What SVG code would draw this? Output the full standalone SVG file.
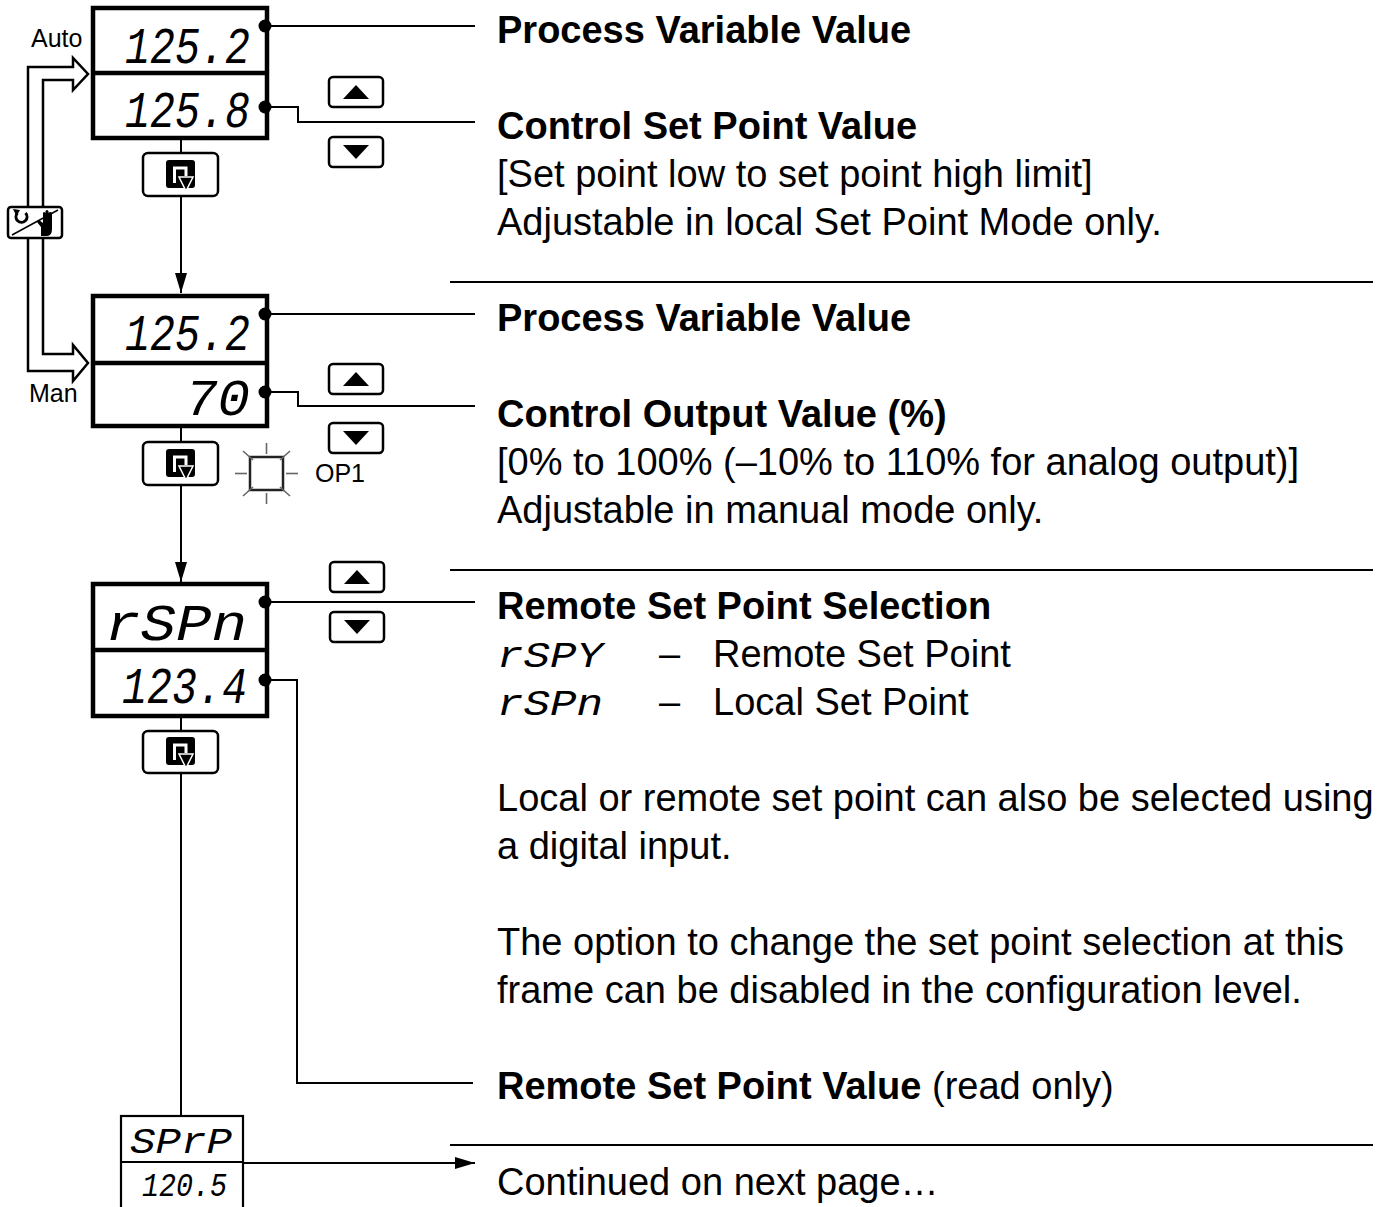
<svg xmlns="http://www.w3.org/2000/svg" width="1386" height="1207" viewBox="0 0 1386 1207">
<style>
.disp{fill:#fff;stroke:#000;stroke-width:4.5}
.thin{fill:#fff;stroke:#000;stroke-width:2.2}
.btn{fill:#fff;stroke:#000;stroke-width:2.5}
.ln{fill:none;stroke:#000;stroke-width:2}
.hol{fill:none;stroke:#000;stroke-width:2.5;stroke-linejoin:miter}
.t{font-family:"Liberation Sans",Arial,sans-serif;font-size:38px;fill:#000}
.b{font-weight:bold}
.sm{font-family:"Liberation Sans",Arial,sans-serif;font-size:25px;fill:#000}
.seg{font-family:"Liberation Mono","DejaVu Sans Mono",monospace;font-style:italic;fill:#000}
.ray{stroke:#666;stroke-width:1.6}
</style>
<defs>
<g id="enter">
<rect x="0" y="0" width="29" height="28" rx="3" fill="#000"/>
<path d="M8.5,23 V8 H20 V16" fill="none" stroke="#fff" stroke-width="3"/>
<polygon points="13,17 27,17 20,31" fill="#000" stroke="#fff" stroke-width="1.5"/>
</g>
<g id="up">
<rect x="0" y="0" width="54" height="30" rx="4" class="btn"/>
<polygon points="14,22 40,22 27,8" fill="#000"/>
</g>
<g id="down">
<rect x="0" y="0" width="54" height="30" rx="4" class="btn"/>
<polygon points="14,8 40,8 27,22" fill="#000"/>
</g>
<marker id="ah" viewBox="0 0 20 12" refX="20" refY="6" markerWidth="20" markerHeight="12" markerUnits="userSpaceOnUse" orient="auto">
<path d="M0,0 L20,6 L0,12 Z" fill="#000"/>
</marker>
</defs>

<g id="connectors">
<line class="ln" x1="181" y1="138" x2="181" y2="153"/>
<line class="ln" x1="181" y1="196" x2="181" y2="293" marker-end="url(#ah)"/>
<line class="ln" x1="181" y1="426" x2="181" y2="442"/>
<line class="ln" x1="181" y1="485" x2="181" y2="582" marker-end="url(#ah)"/>
<line class="ln" x1="181" y1="716" x2="181" y2="731"/>
<line class="ln" x1="181" y1="773" x2="181" y2="1116"/>
<line class="ln" x1="243" y1="1163" x2="475" y2="1163" marker-end="url(#ah)"/>
<path class="ln" d="M265,26 H475"/>
<path class="ln" d="M265,107 H298 V122 H475"/>
<path class="ln" d="M265,314 H475"/>
<path class="ln" d="M265,392 H298 V406 H475"/>
<path class="ln" d="M265,602 H475"/>
<path class="ln" d="M265,680 H297 V1083 H473"/>
<path class="hol" d="M28,207 V67 H73 V58 L88,74 L73,90 V80 H43 V207"/>
<path class="hol" d="M43,238 V354 H73 V345 L88,363 L73,381 V371 H28 V238"/>
</g>

<g id="separators">
<line class="ln" x1="450" y1="282" x2="1373" y2="282"/>
<line class="ln" x1="450" y1="570" x2="1373" y2="570"/>
<line class="ln" x1="450" y1="1145" x2="1373" y2="1145"/>
</g>

<g id="display1">
<rect class="disp" x="93" y="8" width="174" height="130"/>
<line stroke="#000" stroke-width="4.5" x1="93" y1="73" x2="267" y2="73"/>
<text class="seg" x="125" y="63" font-size="52" textLength="125" lengthAdjust="spacingAndGlyphs">125.2</text>
<text class="seg" x="125" y="127" font-size="52" textLength="125" lengthAdjust="spacingAndGlyphs">125.8</text>
<circle cx="265" cy="26" r="6.5"/>
<circle cx="265" cy="107" r="6.5"/>
</g>
<g id="enter1">
<rect class="btn" x="143" y="153" width="75" height="43" rx="5"/>
<use href="#enter" x="166" y="160"/>
</g>
<g id="updown1">
<use href="#up" x="329" y="77"/>
<use href="#down" x="329" y="137"/>
</g>

<g id="modeswitch">
<text class="sm" x="31" y="47">Auto</text>
<text class="sm" x="29" y="402">Man</text>
<rect class="btn" x="8" y="207" width="54" height="31" rx="3"/>
<line stroke="#000" stroke-width="1.5" x1="12" y1="235" x2="58" y2="210"/>
<path d="M17.5,213 A5.5,5.5 0 1 0 25.5,213" fill="none" stroke="#000" stroke-width="3"/>
<polygon points="13,209 20,210 16.5,216" fill="#000"/>
<path d="M41,236 V227 L37,222 L39,220 L43,223 V213 Q44,211 45.5,213 V220 V211 Q47,209 48.5,211 V220 V213 Q50,211 52,213 V229 Q52,236 47,236 Z" fill="#000"/>
</g>

<g id="display2">
<rect class="disp" x="93" y="296" width="174" height="130"/>
<line stroke="#000" stroke-width="4.5" x1="93" y1="363" x2="267" y2="363"/>
<text class="seg" x="125" y="350" font-size="52" textLength="125" lengthAdjust="spacingAndGlyphs">125.2</text>
<text class="seg" x="185" y="415" font-size="52" textLength="65" lengthAdjust="spacingAndGlyphs">70</text>
<circle cx="265" cy="314" r="6.5"/>
<circle cx="265" cy="392" r="6.5"/>
</g>
<g id="enter2">
<rect class="btn" x="143" y="442" width="75" height="43" rx="5"/>
<use href="#enter" x="166" y="449"/>
</g>
<g id="updown2">
<use href="#up" x="329" y="364"/>
<use href="#down" x="329" y="423"/>
</g>
<g id="op1">
<rect x="250" y="457" width="33" height="33" fill="#fff" stroke="#222" stroke-width="2.5"/>
<line class="ray" x1="266.5" y1="443" x2="266.5" y2="454"/>
<line class="ray" x1="266.5" y1="493" x2="266.5" y2="504"/>
<line class="ray" x1="235" y1="473.5" x2="247" y2="473.5"/>
<line class="ray" x1="286" y1="473.5" x2="298" y2="473.5"/>
<line class="ray" x1="243" y1="451" x2="253" y2="460"/>
<line class="ray" x1="290" y1="451" x2="280" y2="460"/>
<line class="ray" x1="243" y1="496" x2="253" y2="487"/>
<line class="ray" x1="290" y1="496" x2="280" y2="487"/>
<text class="sm" x="315" y="482">OP1</text>
</g>

<g id="display3">
<rect class="disp" x="93" y="584" width="174" height="132"/>
<line stroke="#000" stroke-width="4.5" x1="93" y1="650" x2="267" y2="650"/>
<text class="seg" x="105" y="640" font-size="52" textLength="142" lengthAdjust="spacingAndGlyphs">rSPn</text>
<text class="seg" x="122" y="703" font-size="52" textLength="125" lengthAdjust="spacingAndGlyphs">123.4</text>
<circle cx="265" cy="602" r="6.5"/>
<circle cx="265" cy="680" r="6.5"/>
</g>
<g id="enter3">
<rect class="btn" x="143" y="731" width="75" height="42" rx="5"/>
<use href="#enter" x="166" y="737"/>
</g>
<g id="updown3">
<use href="#up" x="330" y="562"/>
<use href="#down" x="330" y="612"/>
</g>

<g id="display4">
<rect class="thin" x="121" y="1116" width="122" height="100"/>
<line stroke="#000" stroke-width="2.2" x1="121" y1="1162" x2="243" y2="1162"/>
<text class="seg" x="130" y="1153" font-size="36" textLength="102" lengthAdjust="spacingAndGlyphs">SPrP</text>
<text class="seg" x="142" y="1196" font-size="33" textLength="85" lengthAdjust="spacingAndGlyphs">120.5</text>
</g>

<g id="texts">
<text class="t b" x="497" y="43">Process Variable Value</text>
<text class="t b" x="497" y="139">Control Set Point Value</text>
<text class="t" x="497" y="187">[Set point low to set point high limit]</text>
<text class="t" x="497" y="235">Adjustable in local Set Point Mode only.</text>
<text class="t b" x="497" y="331">Process Variable Value</text>
<text class="t b" x="497" y="427">Control Output Value (%)</text>
<text class="t" x="497" y="475">[0% to 100% (–10% to 110% for analog output)]</text>
<text class="t" x="497" y="523">Adjustable in manual mode only.</text>
<text class="t b" x="497" y="619">Remote Set Point Selection</text>
<text class="seg" x="497" y="667" font-size="36" textLength="106" lengthAdjust="spacingAndGlyphs">rSPY</text>
<text class="t" x="659" y="667">–</text>
<text class="t" x="713" y="667">Remote Set Point</text>
<text class="seg" x="497" y="715" font-size="36" textLength="106" lengthAdjust="spacingAndGlyphs">rSPn</text>
<text class="t" x="659" y="715">–</text>
<text class="t" x="713" y="715">Local Set Point</text>
<text class="t" x="497" y="811">Local or remote set point can also be selected using</text>
<text class="t" x="497" y="859">a digital input.</text>
<text class="t" x="497" y="955">The option to change the set point selection at this</text>
<text class="t" x="497" y="1003">frame can be disabled in the configuration level.</text>
<text class="t" x="497" y="1099"><tspan class="b">Remote Set Point Value</tspan> (read only)</text>
<text class="t" x="497" y="1195">Continued on next page…</text>
</g>
</svg>
